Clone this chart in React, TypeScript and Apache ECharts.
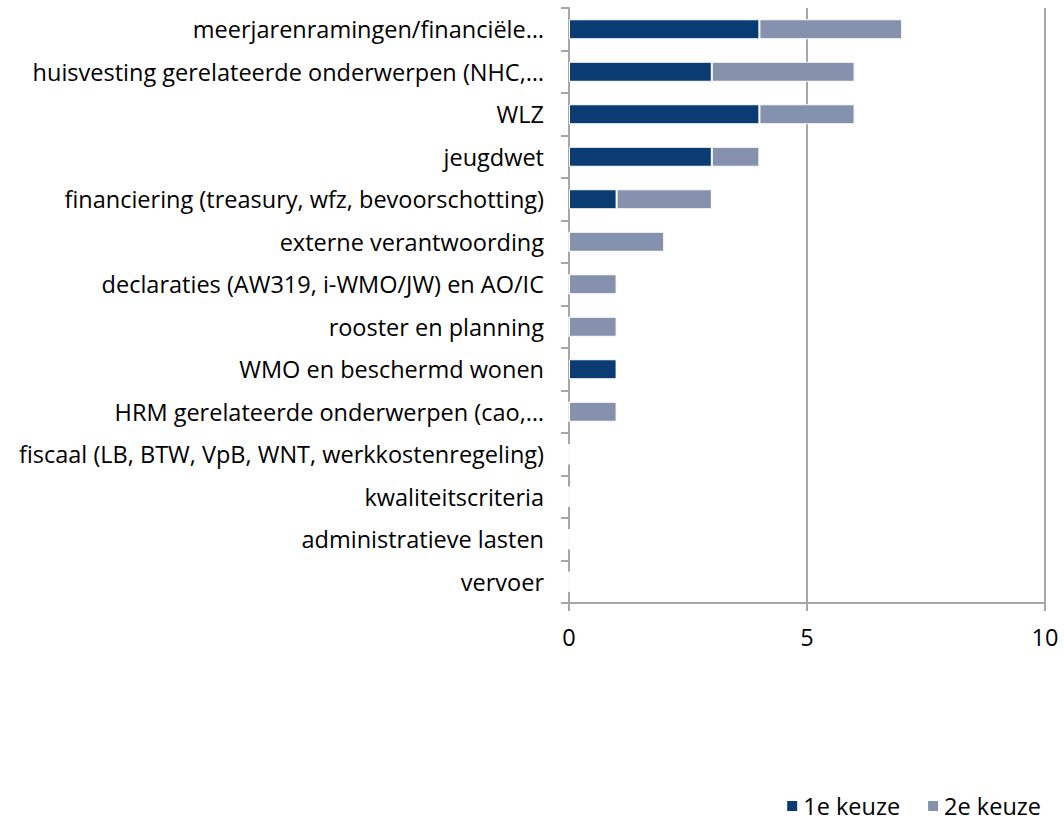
import React, { useEffect, useRef } from "react";
import * as echarts from "echarts";

const categories = [
  "meerjarenramingen/financiële…",
  "huisvesting gerelateerde onderwerpen (NHC,…",
  "WLZ",
  "jeugdwet",
  "financiering (treasury, wfz, bevoorschotting)",
  "externe verantwoording",
  "declaraties (AW319, i-WMO/JW) en AO/IC",
  "rooster en planning",
  "WMO en beschermd wonen",
  "HRM gerelateerde onderwerpen (cao,…",
  "fiscaal (LB, BTW, VpB, WNT, werkkostenregeling)",
  "kwaliteitscriteria",
  "administratieve lasten",
  "vervoer",
];
const keuze1 = [4, 3, 4, 3, 1, 0, 0, 0, 1, 0, 0, 0, 0, 0];
const keuze2 = [3, 3, 2, 1, 2, 2, 1, 1, 0, 1, 0, 0, 0, 0];
const xTicks = { min: 0, max: 10, interval: 5 };

export default function App() {
  const ref = useRef<HTMLDivElement>(null);
  useEffect(() => {
    if (!ref.current) return;
    const chart = echarts.init(ref.current, undefined, { renderer: "svg" });
    const font = "'Open Sans', Lato, sans-serif";
    const fs = 23.5;
    const axisColor = "#a6a6a6";
    chart.setOption({
      animation: false,
      textStyle: { fontFamily: font },
      grid: { left: 569, right: 19, top: 8, bottom: 222, containLabel: false },
      legend: {
        right: 18,
        bottom: 2,
        itemWidth: 12,
        itemHeight: 12,
        itemGap: 26,
        icon: "rect",
        textStyle: { fontFamily: font, fontSize: fs, color: "#000" },
        data: ["1e keuze", "2e keuze"],
      },
      xAxis: {
        type: "value",
        min: xTicks.min,
        max: xTicks.max,
        interval: xTicks.interval,
        axisLine: { show: true, lineStyle: { color: axisColor, width: 2 } },
        axisTick: { show: true, length: 8, lineStyle: { color: axisColor, width: 2 } },
        splitLine: { show: true, lineStyle: { color: axisColor, width: 2 } },
        axisLabel: { fontFamily: font, fontSize: fs, color: "#000", margin: 22 },
      },
      yAxis: {
        type: "category",
        data: categories,
        inverse: true,
        axisLine: { show: true, lineStyle: { color: axisColor, width: 2 } },
        axisTick: { show: true, length: 8, lineStyle: { color: axisColor, width: 2 } },
        axisLabel: { fontFamily: font, fontSize: fs, color: "#000", margin: 25 },
      },
      series: [
        {
          name: "1e keuze",
          type: "bar",
          stack: "total",
          barWidth: 20,
          data: keuze1,
          itemStyle: { color: "#0a3b73", borderColor: "#fff", borderWidth: 1 },
        },
        {
          name: "2e keuze",
          type: "bar",
          stack: "total",
          barWidth: 20,
          data: keuze2,
          itemStyle: { color: "#8691ad", borderColor: "#fff", borderWidth: 1 },
        },
      ],
    });
    return () => chart.dispose();
  }, []);
  return <div ref={ref} style={{ width: 1064, height: 825, position: "absolute", left: 0, top: 0 }} />;
}
